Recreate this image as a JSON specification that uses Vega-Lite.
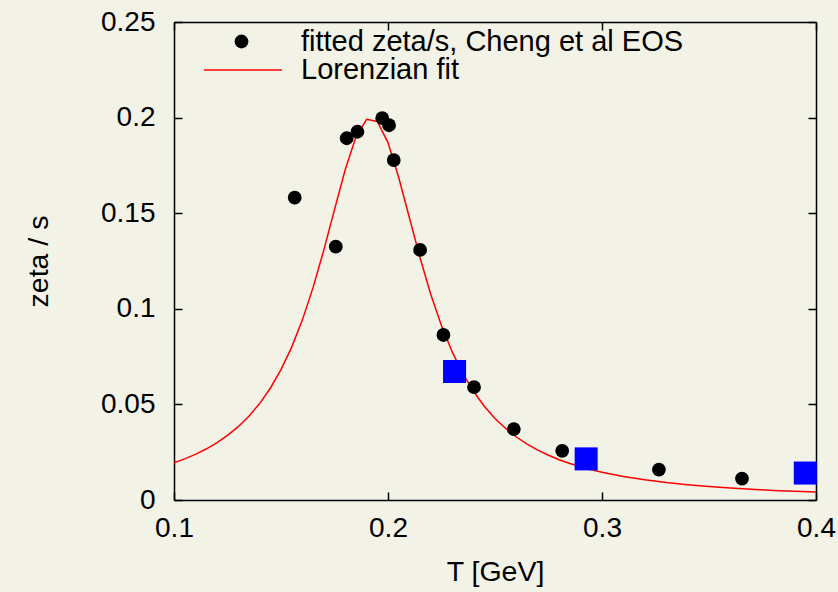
{
  "$schema": "https://vega.github.io/schema/vega-lite/v6.json",
  "width": 642,
  "height": 478,
  "autosize": {"type": "none"},
  "padding": {"left": 174, "top": 22, "right": 22, "bottom": 92},
  "background": "#f3f2e7",
  "config": {
    "view": {"stroke": null},
    "font": "Liberation Sans",
    "axis": {
      "domainColor": "black",
      "domainWidth": 1.5,
      "tickColor": "black",
      "tickWidth": 1.5,
      "tickSize": -8,
      "labelFontSize": 28,
      "labelColor": "black",
      "labelFont": "Liberation Sans",
      "titleFont": "Liberation Sans",
      "titleFontSize": 28.5,
      "titleFontWeight": "normal",
      "titleColor": "black",
      "grid": false
    },
    "legend": {
      "labelFont": "Liberation Sans",
      "labelFontSize": 29,
      "labelColor": "black",
      "labelLimit": 0,
      "padding": 0
    }
  },
  "datasets": {
    "fit": [
      {"T": 0.100, "zeta": 0.01945}, {"T": 0.105, "zeta": 0.02151}, {"T": 0.110, "zeta": 0.02389},
      {"T": 0.115, "zeta": 0.02666}, {"T": 0.120, "zeta": 0.02992}, {"T": 0.125, "zeta": 0.03377},
      {"T": 0.130, "zeta": 0.03835}, {"T": 0.135, "zeta": 0.04384}, {"T": 0.140, "zeta": 0.05044},
      {"T": 0.145, "zeta": 0.05845}, {"T": 0.150, "zeta": 0.06817}, {"T": 0.155, "zeta": 0.07997},
      {"T": 0.160, "zeta": 0.09421}, {"T": 0.165, "zeta": 0.1112}, {"T": 0.170, "zeta": 0.1307},
      {"T": 0.175, "zeta": 0.1519}, {"T": 0.180, "zeta": 0.1727}, {"T": 0.185, "zeta": 0.1898},
      {"T": 0.190, "zeta": 0.1991}, {"T": 0.195, "zeta": 0.1980}, {"T": 0.200, "zeta": 0.1869},
      {"T": 0.205, "zeta": 0.1687}, {"T": 0.210, "zeta": 0.1476}, {"T": 0.215, "zeta": 0.1266},
      {"T": 0.220, "zeta": 0.1075}, {"T": 0.225, "zeta": 0.09116}, {"T": 0.230, "zeta": 0.07743},
      {"T": 0.235, "zeta": 0.06607}, {"T": 0.240, "zeta": 0.05672}, {"T": 0.245, "zeta": 0.04902},
      {"T": 0.250, "zeta": 0.04266}, {"T": 0.255, "zeta": 0.03737}, {"T": 0.260, "zeta": 0.03295},
      {"T": 0.265, "zeta": 0.02923}, {"T": 0.270, "zeta": 0.02607}, {"T": 0.275, "zeta": 0.02338},
      {"T": 0.280, "zeta": 0.02107}, {"T": 0.285, "zeta": 0.01908}, {"T": 0.290, "zeta": 0.01735},
      {"T": 0.295, "zeta": 0.01583}, {"T": 0.300, "zeta": 0.01450}, {"T": 0.310, "zeta": 0.01229},
      {"T": 0.320, "zeta": 0.01055}, {"T": 0.330, "zeta": 0.00914}, {"T": 0.340, "zeta": 0.00799},
      {"T": 0.350, "zeta": 0.00705}, {"T": 0.360, "zeta": 0.00626}, {"T": 0.370, "zeta": 0.00560},
      {"T": 0.380, "zeta": 0.00503}, {"T": 0.390, "zeta": 0.00455}, {"T": 0.400, "zeta": 0.00413}
    ],
    "cheng": [
      {"T": 0.1564, "zeta": 0.1581}, {"T": 0.1756, "zeta": 0.1325}, {"T": 0.1807, "zeta": 0.1892},
      {"T": 0.1857, "zeta": 0.1926}, {"T": 0.1973, "zeta": 0.1997}, {"T": 0.2005, "zeta": 0.1960},
      {"T": 0.2027, "zeta": 0.1778}, {"T": 0.2150, "zeta": 0.1308}, {"T": 0.2259, "zeta": 0.0863},
      {"T": 0.2402, "zeta": 0.0590}, {"T": 0.2588, "zeta": 0.0371}, {"T": 0.2814, "zeta": 0.0257},
      {"T": 0.3266, "zeta": 0.0159}, {"T": 0.3654, "zeta": 0.0112}
    ],
    "blue": [
      {"T": 0.2311, "zeta": 0.0672}, {"T": 0.2926, "zeta": 0.0215}, {"T": 0.3950, "zeta": 0.0141}
    ]
  },
  "layer": [
    {
      "data": {"name": "fit"},
      "mark": {"type": "line", "strokeWidth": 1.5, "clip": true},
      "encoding": {
        "x": {"field": "T", "type": "quantitative",
              "scale": {"domain": [0.1, 0.4], "nice": false, "zero": false},
              "axis": {"values": [0.1, 0.2, 0.3, 0.4], "format": "~g", "title": "T [GeV]", "labelPadding": 22, "titlePadding": 15, "labelFlush": false}},
        "y": {"field": "zeta", "type": "quantitative",
              "scale": {"domain": [0, 0.25], "nice": false},
              "axis": {"values": [0, 0.05, 0.1, 0.15, 0.2, 0.25], "format": "~g", "title": "zeta / s", "labelPadding": 27, "titlePadding": 47, "labelFlush": false}},
        "color": {"datum": "Lorenzian fit", "type": "nominal",
                  "scale": {"range": ["#ff0000"]},
                  "legend": {"orient": "none", "legendX": 29, "legendY": 8, "title": null,
                             "symbolType": "stroke", "symbolSize": 6084, "symbolStrokeWidth": 1.5,
                             "labelOffset": 18}}
      }
    },
    {
      "data": {"name": "cheng"},
      "mark": {"type": "point", "filled": true, "color": "black", "opacity": 1, "size": 190},
      "encoding": {
        "x": {"field": "T", "type": "quantitative",
              "axis": {"orient": "top", "values": [0.1, 0.2, 0.3, 0.4], "labels": false, "title": null}},
        "y": {"field": "zeta", "type": "quantitative",
              "axis": {"orient": "right", "values": [0, 0.05, 0.1, 0.15, 0.2, 0.25], "labels": false, "title": null}},
        "shape": {"datum": "fitted zeta/s, Cheng et al EOS", "type": "nominal",
                  "scale": {"range": ["circle"]},
                  "legend": {"orient": "none", "legendX": 53, "legendY": 5, "title": null,
                             "symbolSize": 190, "symbolFillColor": "black", "symbolStrokeColor": "black",
                             "symbolStrokeWidth": 0, "labelOffset": 45}}
      }
    },
    {
      "data": {"name": "blue"},
      "mark": {"type": "square", "filled": true, "color": "#0000ff", "opacity": 1, "size": 530},
      "encoding": {
        "x": {"field": "T", "type": "quantitative", "axis": null},
        "y": {"field": "zeta", "type": "quantitative", "axis": null}
      }
    }
  ],
  "resolve": {"axis": {"x": "independent", "y": "independent"}}
}
